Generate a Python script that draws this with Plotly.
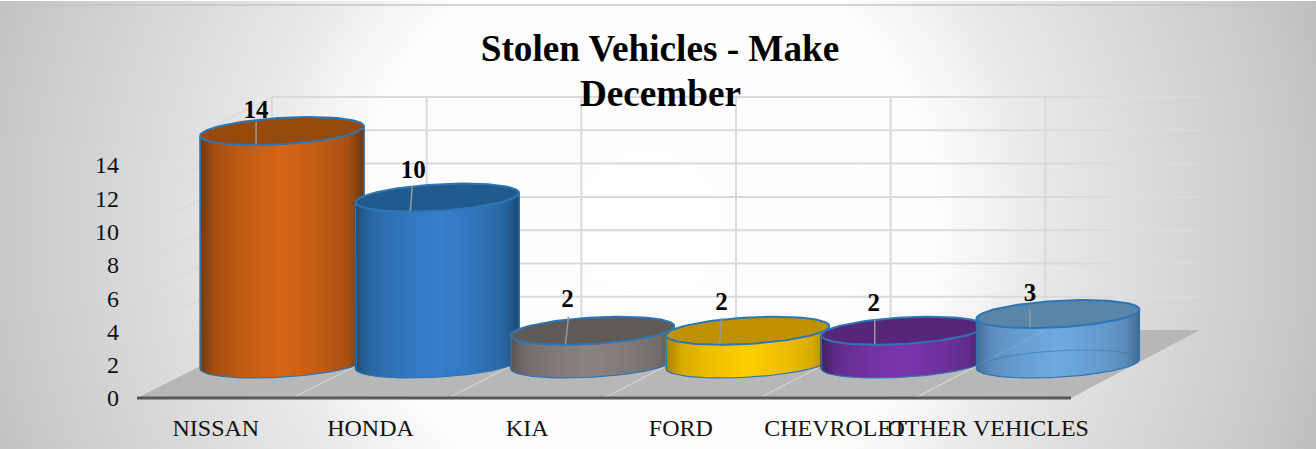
import numpy as np
import plotly.graph_objects as go

# ---- data ----
categories = ["NISSAN", "HONDA", "KIA", "FORD", "CHEVROLET", "OTHER VEHICLES"]
values = [14, 10, 2, 2, 2, 3]
y_ticks = [0, 2, 4, 6, 8, 10, 12, 14]
title_line1 = "Stolen Vehicles - Make"
title_line2 = "December"

# ---- style ----
body_center = ["#D66516", "#3580CC", "#8A8380", "#FFCF00", "#7C36AE", "#6FAAE0"]
body_edge = ["#6F370B", "#1C4B75", "#575352", "#A67C00", "#40205F", "#446C93"]
top_fill = ["#954A0C", "#215A8C", "#5E5A58", "#BF9000", "#55267A", "#5A84A8"]
see_through = [False, False, False, False, False, True]
label_dx_px = [-26, -24, -25, -26, -29, -28]
label_dy_px = [19, 26, 30, 27, 26, 19]
leader_dx_px = [-26, -27, -27, -28, -28, -28]
leader_tilt_px = [0, 2, 3, 2, 0, 0]
leader_up_px = [9, 11, 14, 13, 11, 4]
tick_shift_px = [1, 0, 1, -1, -2, -5]
SERIF = "Liberation Serif"
W, H = 1316, 449
X0, Y0, UX, UY = 137.0, 398.0, 155.67, 16.64      # axis origin and pixels per unit


def u_of(px):
    return (px - X0) / UX


def v_of(py):
    return (Y0 - py) / UY


def project(u, v, d):
    """oblique projection of (category position, value, depth) on the 2D axes"""
    dx = (135.0 - 1.0 * np.asarray(u, dtype=float)) / UX
    return u + d * dx, v + d * (68.0 / UY)


def hexrgb(h):
    return np.array([int(h[i:i + 2], 16) for i in (1, 3, 5)], dtype=float)


def mix(edge, center, g):
    c = hexrgb(edge) + g * (hexrgb(center) - hexrgb(edge))
    return f"rgb({c[0]:.0f},{c[1]:.0f},{c[2]:.0f})"


fig = go.Figure()

# background gradient
gx = np.linspace(4, W, 120)
gy = np.linspace(6, H, 45)
GX, GY = np.meshgrid(gx, gy)
R = np.hypot(GX - 648, GY - 225)
Z = np.interp(R, [0, 290, 392, 500, 660, 700], [255, 253, 233, 219, 198, 190])
fig.add_trace(go.Heatmap(x=u_of(gx), y=v_of(gy), z=Z, zmin=0, zmax=255, zsmooth="best", showscale=False,
                         colorscale=[[0, "#000000"], [1, "#FFFFFF"]], hoverinfo="skip"))


def line(xs, ys, color, width, fill=None):
    fig.add_trace(go.Scatter(x=xs, y=ys, mode="lines", line=dict(color=color, width=width),
                             fill="toself" if fill else None, fillcolor=fill, hoverinfo="skip"))


n = len(categories)
top = max(y_ticks)
# side-wall and back-wall gridlines (the wall fades out towards the right)
for t in y_ticks[1:]:
    x, y = project(np.array([0.0, 0.0]), np.array([t, t]), np.array([0.0, 1.0]))
    line(x, y, "#DADADA", 1.3)
    x, y = project(np.array([0.0, n - 0.55]), np.array([t, t]), np.array([1.0, 1.0]))
    line(x, y, "#DADADA", 2)
    x, y = project(np.array([n - 0.55, float(n)]), np.array([t, t]), np.array([1.0, 1.0]))
    line(x, y, "rgba(225,225,225,0.35)", 2)
for i in range(n):
    x, y = project(np.array([float(i), float(i)]), np.array([0.0, top]), np.array([1.0, 1.0]))
    line(x, y, "#DADADA", 2)

# floor
x, y = project(np.array([0.0, n, n, 0.0, 0.0]), np.zeros(5), np.array([0.0, 0.0, 1.0, 1.0, 0.0]))
line(x, y, "rgba(0,0,0,0)", 0, fill="#B7B7B7")
for i in range(1, n):
    x, y = project(np.array([float(i), float(i)]), np.zeros(2), np.array([0.0, 1.0]))
    line(x, y, "#D9D9D9", 1)
x, y = project(np.array([0.0, float(n)]), np.zeros(2), np.zeros(2))
line(x, y, "#595959", 3)

# cylinders
R_U = 77.0 / UX
R_D = 0.206
BLUE = "#2E75B6"
for i, val in enumerate(values):
    uc = i + 0.5
    dx_unit = float((135.0 - uc) / UX)
    th0 = np.arctan2(R_D * dx_unit, R_U)
    half = 82.0 / UX

    def ring(th, v):
        u = uc + R_U * np.cos(th)
        d = 0.5 + R_D * np.sin(th)
        return u + d * dx_unit, v + d * (68.0 / UY)

    front = np.linspace(th0 + np.pi, th0 + 2 * np.pi, 49)
    xb, yb = ring(front, 0.0)
    xt, yt = ring(front, float(val))
    xc = uc + 0.5 * dx_unit
    for k in range(len(front) - 1):
        tm = abs(((xb[k] + xb[k + 1]) / 2 - xc) / half)
        g = float(np.interp(tm, [0, 0.5, 0.8, 1.0], [1.0, 0.78, 0.55, 0.0]))
        col = mix(body_edge[i], body_center[i], g)
        e = 0.004
        k1 = k + 1
        fig.add_trace(go.Scatter(
            x=[xb[k] - e, xb[k1] + e, xt[k1] + e, xt[k] - e, xb[k] - e],
            y=[yb[k], yb[k1], yt[k1], yt[k], yb[k]],
            mode="lines", line=dict(width=0, color="rgba(0,0,0,0)"), fill="toself",
            fillcolor=col, hoverinfo="skip"))
    # outline of body
    line(np.r_[xt[0], xb, xt[-1]], np.r_[yt[0], yb, yt[-1]], BLUE, 1.2)
    if see_through[i]:
        back = np.linspace(th0, th0 + np.pi, 49)
        xbb, ybb = ring(back, 0.0)
        line(xbb, ybb, "rgba(46,117,182,0.6)", 1)
        x, y = project(np.array([float(i), float(i)]), np.zeros(2), np.array([0.0, 1.0]))
        line(x, y, "rgba(255,255,255,0.12)", 1)
    # top face
    ang = np.linspace(0, 2 * np.pi, 97)
    xe, ye = ring(ang, float(val))
    line(xe, ye, BLUE, 2, fill=top_fill[i])

# leader lines and data labels
for i, val in enumerate(values):
    uc = i + 0.5
    xc, yc = project(uc, float(val), 0.5)
    xl = xc + leader_dx_px[i] / UX
    line([xl, xl + leader_tilt_px[i] / UX], [yc - 13.5 / UY, yc + leader_up_px[i] / UY], "#999999", 1.5)
label_x = [project(i + 0.5, 0.0, 0.5)[0] + label_dx_px[i] / UX for i in range(n)]
label_y = [project(i + 0.5, float(values[i]), 0.5)[1] + label_dy_px[i] / UY for i in range(n)]
fig.add_trace(go.Scatter(x=label_x, y=label_y, mode="text", text=[f"<b>{v}</b>" for v in values],
                         textposition="middle center", hoverinfo="skip",
                         textfont=dict(family=SERIF, size=25, color="#000000")))

fig.update_layout(
    width=W, height=H, margin=dict(l=0, r=0, t=0, b=0), showlegend=False,
    paper_bgcolor="#FFFFFF", plot_bgcolor="rgba(0,0,0,0)", hovermode=False,
    title=dict(text=f"<b>{title_line1}</b>", x=660 / W, y=1 - 48 / H, xanchor="center", yanchor="middle",
               font=dict(family=SERIF, size=37.2, color="#000000")),
    annotations=[dict(text=f"<b>{title_line2}</b>", xref="paper", yref="paper", x=660 / W, y=1 - 93 / H,
                      xanchor="center", yanchor="middle", showarrow=False,
                      font=dict(family=SERIF, size=37.2, color="#000000"))],
    shapes=[dict(type="line", xref="paper", yref="paper", x0=4 / W, x1=1, y0=1 - 5 / H, y1=1 - 5 / H,
                 line=dict(color="#C4C4C4", width=1.5))],
    xaxis=dict(range=[u_of(0), u_of(W)], domain=[0, 1], anchor="free", position=(H - Y0) / H,
               tickmode="array", tickvals=[i + 0.5 + tick_shift_px[i] / UX for i in range(n)],
               ticktext=categories, tickangle=0,
               showgrid=False, zeroline=False, showline=False, ticks="", ticklabelstandoff=13,
               tickfont=dict(family=SERIF, size=24, color="#111111")),
    yaxis=dict(range=[v_of(H), v_of(0)], domain=[0, 1], anchor="free", position=X0 / W,
               tickmode="array", tickvals=y_ticks, ticktext=[str(t) for t in y_ticks],
               showgrid=False, zeroline=False, showline=False, ticks="", ticklabelstandoff=18,
               tickfont=dict(family=SERIF, size=24, color="#111111")),
)
fig.write_html("out.html", config=dict(displayModeBar=False),
               post_script="document.body.style.margin='0';document.documentElement.style.overflow='hidden';")
